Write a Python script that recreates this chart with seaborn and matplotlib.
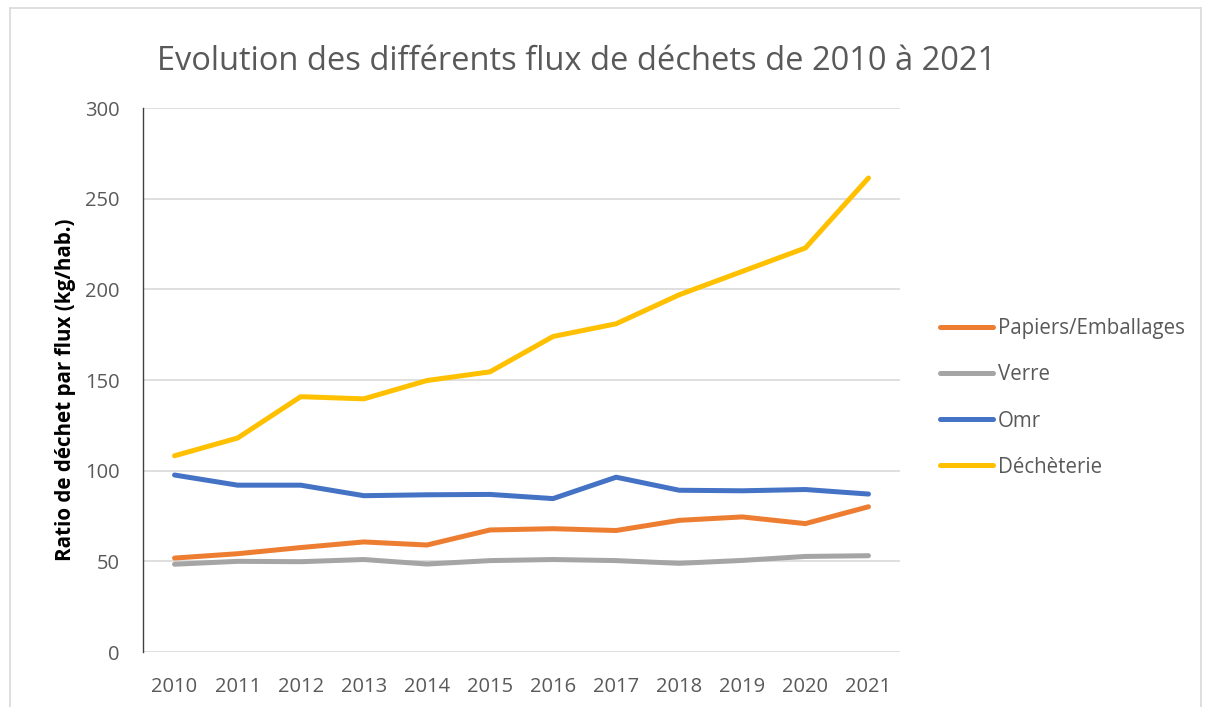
import numpy as np
import pandas as pd
import matplotlib
matplotlib.use('Agg')
import matplotlib.pyplot as plt
import seaborn as sns
from matplotlib.lines import Line2D

# data (kg/hab.)
years = ['2010', '2011', '2012', '2013', '2014', '2015', '2016', '2017', '2018', '2019', '2020', '2021']
papiers = [51.8, 54.2, 57.6, 60.7, 59.0, 67.3, 68.0, 67.0, 72.6, 74.5, 70.8, 80.1]
verre = [48.4, 50.0, 49.8, 51.0, 48.5, 50.4, 51.0, 50.4, 48.9, 50.5, 52.7, 53.1]
omr = [97.6, 92.0, 92.0, 86.2, 86.7, 86.9, 84.6, 96.4, 89.2, 88.9, 89.6, 87.1]
decheterie = [108.2, 118.0, 140.8, 139.6, 149.7, 154.5, 174.0, 181.0, 197.0, 209.9, 222.8, 261.4]

series_names = ['Papiers/Emballages', 'Verre', 'Omr', 'Déchèterie']
series_colors = ['#ED7D31', '#A5A5A5', '#4472C4', '#FFC000']

df = pd.DataFrame({
    'annee': years * 4,
    'valeur': papiers + verre + omr + decheterie,
    'flux': np.repeat(series_names, len(years)),
})

sns.set_style('white')
plt.rcParams['font.family'] = ['Open Sans', 'DejaVu Sans']
txt_grey = '#595959'

fig = plt.figure(figsize=(12.05, 7.07), dpi=100)
ax = fig.add_axes([143 / 1205, 55 / 707, (900 - 143) / 1205, (652 - 108) / 707])

sns.lineplot(data=df, x='annee', y='valeur', hue='flux', hue_order=series_names,
             palette=series_colors, linewidth=3.6, sort=False, ax=ax,
             solid_capstyle='round', solid_joinstyle='round')

ax.set_xlim(-0.5, len(years) - 0.5)
ax.set_ylim(0, 300)
ax.set_yticks(range(0, 301, 50))
ax.yaxis.grid(True, color='#D9D9D9', linewidth=1.2)
ax.set_axisbelow(True)
for s in ['top', 'right', 'bottom']:
    ax.spines[s].set_visible(False)
ax.spines['left'].set_color('#404040')
ax.spines['left'].set_linewidth(1.0)
ax.tick_params(axis='both', length=0, labelsize=14.5, labelcolor=txt_grey)
ax.tick_params(axis='x', pad=18)
ax.tick_params(axis='y', pad=17)
ax.set_xlabel('')
ax.set_ylabel('')

fig.text(66 / 1205, 1 - 390 / 707, 'Ratio de déchet par flux (kg/hab.)', rotation=90,
         ha='center', va='center', fontsize=14.9, fontweight='bold', color='black')

fig.text(577 / 1205, 1 - 61 / 707, 'Evolution des différents flux de déchets de 2010 à 2021',
         ha='center', va='center', fontsize=23.5, color=txt_grey)

ax.legend_.remove()
handles = [Line2D([0], [0], color=c, linewidth=3.6, solid_capstyle='round') for c in series_colors]
fig.legend(handles, series_names, loc='center left', bbox_to_anchor=(0.765, 1 - 398 / 707),
           frameon=False, fontsize=14.8, labelcolor=txt_grey, handlelength=2.55,
           handletextpad=0.25, labelspacing=1.22)

# thin border around the chart area
border = '#D9D9D9'
fig.add_artist(Line2D([10 / 1205, 1201 / 1205], [1 - 8 / 707, 1 - 8 / 707], color=border, linewidth=1.2))
fig.add_artist(Line2D([10 / 1205, 10 / 1205], [0, 1 - 8 / 707], color=border, linewidth=1.2))
fig.add_artist(Line2D([1201 / 1205, 1201 / 1205], [0, 1 - 8 / 707], color=border, linewidth=1.2))

fig.savefig('out.png', dpi=100)
